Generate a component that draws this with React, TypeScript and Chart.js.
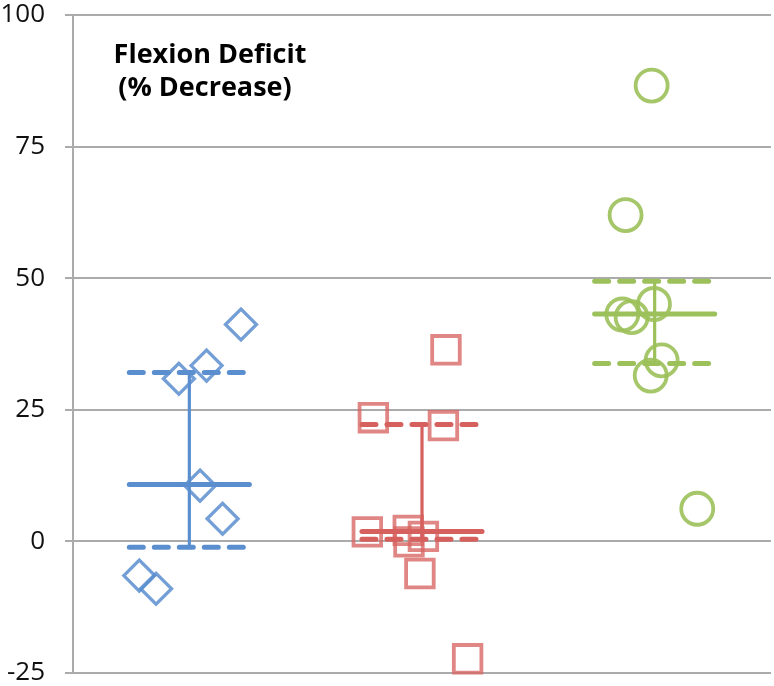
import React, { useEffect, useRef } from "react";
import { Chart, registerables } from "chart.js";

Chart.register(...registerables);

// Individual observations (x = jittered position inside group, y = % decrease)
const blueX = [0.722, 0.574, 0.455, 0.546, 0.643, 0.285, 0.357];
const blueY = [41.2, 33.4, 30.9, 10.6, 4.3, -6.5, -9.0];

const redX = [1.603, 1.291, 1.592, 1.265, 1.441, 1.506, 1.444, 1.491, 1.696];
const redY = [36.4, 23.5, 22.0, 1.8, 2.1, 0.95, -0.1, -6.1, -22.3];

const greenX = [2.487, 2.375, 2.361, 2.401, 2.497, 2.53, 2.483, 2.683];
const greenY = [86.6, 62.0, 43.1, 42.6, 45.1, 34.4, 31.5, 6.2];

// Group summary (median and quartiles)
const groupCenters = [0.5, 1.5, 2.5];
const medians = [10.8, 1.9, 43.2];
const q1s = [-1.1, 0.4, 33.8];
const q3s = [32.1, 22.2, 49.4];
const halfWidth = 0.258;

const yTickValues = [-25, 0, 25, 50, 75, 100];
const titleLines = ["Flexion Deficit", "(% Decrease)"];

const lineColors = ["#5a8ecf", "#d5605e", "#9cc05a"];
const markerColors = [
  "rgba(90,142,207,0.85)",
  "rgba(215,100,98,0.78)",
  "rgba(156,192,90,0.9)",
];

export default function App() {
  const ref = useRef<HTMLCanvasElement | null>(null);

  useEffect(() => {
    if (!ref.current) return;
    const pts = (xs: number[], ys: number[]) => xs.map((x, i) => ({ x, y: ys[i] }));

    const markerSets: any[] = [
      {
        label: "A",
        data: pts(blueX, blueY),
        pointStyle: "rectRot",
        pointRadius: 15.5,
        pointBorderWidth: 3.3,
        pointBorderColor: markerColors[0],
        pointBackgroundColor: "rgba(0,0,0,0)",
        showLine: false,
        clip: false,
        order: 2,
      },
      {
        label: "B",
        data: pts(redX, redY),
        pointStyle: "rect",
        pointRadius: 19.5,
        pointBorderWidth: 3.8,
        pointBorderColor: markerColors[1],
        pointBackgroundColor: "rgba(0,0,0,0)",
        showLine: false,
        clip: false,
        order: 2,
      },
      {
        label: "C",
        data: pts(greenX, greenY),
        pointStyle: "circle",
        pointRadius: 16,
        pointBorderWidth: 3.8,
        pointBorderColor: markerColors[2],
        pointBackgroundColor: "rgba(0,0,0,0)",
        showLine: false,
        clip: false,
        order: 2,
      },
    ];

    const lineSets: any[] = [];
    groupCenters.forEach((c, g) => {
      const common = {
        showLine: true,
        pointRadius: 0,
        pointHoverRadius: 0,
        borderColor: lineColors[g],
        fill: false,
        order: 1,
      };
      lineSets.push({
        ...common,
        data: [
          { x: c - halfWidth, y: medians[g] },
          { x: c + halfWidth, y: medians[g] },
        ],
        borderWidth: 5,
        borderCapStyle: "round",
      });
      lineSets.push({
        ...common,
        data: [
          { x: c - halfWidth, y: q3s[g] },
          { x: c + halfWidth, y: q3s[g] },
        ],
        borderWidth: 5,
        borderCapStyle: "round",
        borderDash: [14, 11],
      });
      lineSets.push({
        ...common,
        data: [
          { x: c - halfWidth, y: q1s[g] },
          { x: c + halfWidth, y: q1s[g] },
        ],
        borderWidth: 5,
        borderCapStyle: "round",
        borderDash: [14, 11],
      });
      lineSets.push({
        ...common,
        data: [
          { x: c, y: q1s[g] },
          { x: c, y: q3s[g] },
        ],
        borderWidth: 3.2,
        borderCapStyle: "butt",
      });
    });

    const titlePlugin = {
      id: "innerTitle",
      afterDatasetsDraw(chart: any) {
        const { ctx } = chart;
        ctx.save();
        ctx.fillStyle = "#000";
        ctx.font = "bold 27px 'Open Sans'";
        ctx.textAlign = "center";
        ctx.textBaseline = "alphabetic";
        ctx.fillText(titleLines[0], 210, 63);
        ctx.fillText(titleLines[1], 205, 96);
        ctx.restore();
      },
    };

    const chart = new Chart(ref.current, {
      type: "scatter",
      data: { datasets: [...lineSets, ...markerSets] },
      options: {
        animation: false,
        responsive: false,
        devicePixelRatio: 1,
        events: [],
        layout: { autoPadding: false, padding: { left: 0, right: 3, top: 15, bottom: 13 } },
        plugins: {
          legend: { display: false },
          tooltip: { enabled: false },
          title: { display: false },
        },
        scales: {
          x: { type: "linear", min: 0, max: 3, display: false },
          y: {
            type: "linear",
            min: -25,
            max: 100,
            afterBuildTicks(scale: any) {
              scale.ticks = yTickValues.map((v) => ({ value: v }));
            },
            afterFit(scale: any) {
              scale.width = 73;
              scale.paddingTop = 0;
              scale.paddingBottom = 0;
            },
            grid: {
              color: "#ababab",
              lineWidth: 2,
              drawTicks: true,
              tickLength: 8,
            },
            border: { display: true, color: "#ababab", width: 2 },
            ticks: {
              padding: 20,
              color: "#111",
              font: { family: "Open Sans", size: 26 },
              callback: (v: any) => String(v),
            },
          },
        },
      },
      plugins: [titlePlugin],
    });
    return () => chart.destroy();
  }, []);

  return (
    <div style={{ position: "absolute", left: 0, top: 0, width: 774, height: 686, background: "#fff" }}>
      <canvas ref={ref} width={774} height={686} style={{ display: "block" }} />
    </div>
  );
}
